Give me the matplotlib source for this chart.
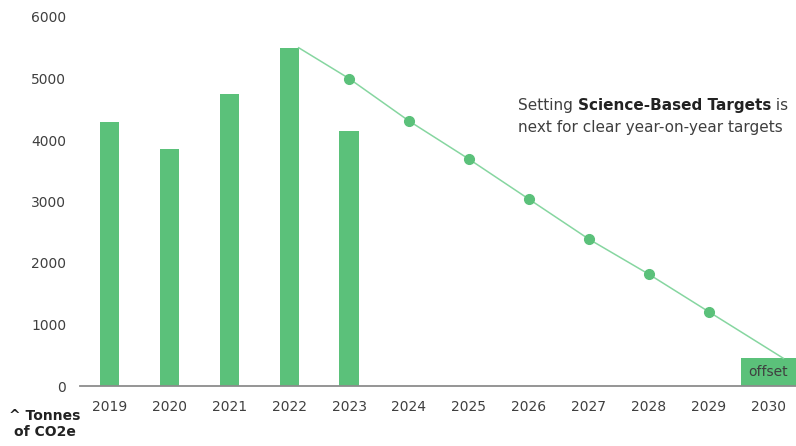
import matplotlib.pyplot as plt

# emissions history (tonnes CO2e)
years = [2019, 2020, 2021, 2022, 2023]
emissions = [4300, 3850, 4750, 5500, 4150]

# reduction pathway from the 2022 baseline
path_years = [2022, 2023, 2024, 2025, 2026, 2027, 2028, 2029]
path_values = [5500, 5000, 4310, 3690, 3040, 2390, 1820, 1210]

offset_year = 2030
offset_value = 450

all_years = list(range(2019, 2031))
yticks = [0, 1000, 2000, 3000, 4000, 5000, 6000]

BAR = "#5bc17a"
LINE = "#86d6a0"
TEXT = "#3f3f3f"
FONT = ["DejaVu Sans"]

plt.rcParams["font.family"] = FONT

fig = plt.figure(figsize=(7.96, 4.46), dpi=100)
ax = fig.add_axes([80 / 796, 60 / 446, 716 / 796, 369 / 446])

bar_width = 0.32
ax.bar(years, emissions, width=bar_width, color=BAR, zorder=2)

offset_width = 0.92
ax.bar([offset_year], [offset_value], width=offset_width, color=BAR, zorder=2)
ax.text(offset_year, offset_value / 2, "offset", ha="center", va="center",
        fontsize=10, color=TEXT, zorder=4)

# pathway leaves the top-right corner of the 2022 bar and lands on the offset block
line_x = [path_years[0] + bar_width / 2] + path_years[1:] + [offset_year + 0.25]
line_y = path_values + [offset_value]
ax.plot(line_x, line_y, color=LINE, lw=1.1, zorder=3)
ax.plot(path_years[1:], path_values[1:], "o", color=BAR, ms=7, zorder=3)

ax.set_xlim(2018.51, offset_year + offset_width / 2)
ax.set_ylim(0, 6000)
ax.set_xticks(all_years)
ax.set_xticklabels([str(y) for y in all_years])
ax.set_yticks(yticks)
ax.tick_params(length=0, labelsize=10, labelcolor=TEXT)
ax.tick_params(axis="x", pad=10)
ax.tick_params(axis="y", pad=10)
for side in ("left", "right", "top"):
    ax.spines[side].set_visible(False)
ax.spines["bottom"].set_color("#8c8c8c")
ax.spines["bottom"].set_linewidth(1.3)

# annotation with bold middle phrase
t1 = fig.text(518 / 796, 1 - 110 / 446, "Setting ", fontsize=11, color=TEXT,
              va="baseline")
t2 = ax.annotate("Science-Based Targets", xy=(1, 0), xycoords=t1, va="bottom",
                 fontsize=11, color="#222222", fontweight="bold")
ax.annotate(" is", xy=(1, 0), xycoords=t2, va="bottom", fontsize=11, color=TEXT)
fig.text(518 / 796, 1 - 132 / 446, "next for clear year-on-year targets",
         fontsize=11, color=TEXT, va="baseline")

fig.text(45 / 796, 1 - 424 / 446, "^ Tonnes\nof CO2e", ha="center", va="center",
         multialignment="center", fontsize=10, fontweight="bold",
         color="#222222", linespacing=1.25)

fig.savefig("out.png", dpi=100)
